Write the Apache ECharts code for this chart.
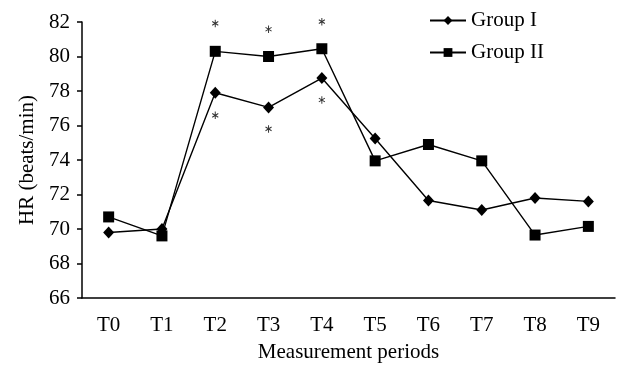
<!DOCTYPE html>
<html><head><meta charset="utf-8">
<script src="https://cdn.jsdelivr.net/npm/echarts@6/dist/echarts.min.js"></script>
<style>html,body{margin:0;padding:0;background:#fff}#c{width:626px;height:366px}</style>
</head><body><div id="c"></div>
<script>
const categories = ['T0','T1','T2','T3','T4','T5','T6','T7','T8','T9'];
const groupI  = [69.8, 70.0, 77.9, 77.05, 78.75, 75.25, 71.65, 71.1, 71.8, 71.6];
const groupII = [70.7, 69.6, 80.3, 80.0, 80.45, 73.95, 74.9, 73.95, 69.65, 70.15];
const starsAbove = [['T2', 81.92], ['T3', 81.58], ['T4', 82.02]];
const starsBelow = [['T2', 76.59], ['T3', 75.8], ['T4', 77.48]];
const yTicks = [66, 68, 70, 72, 74, 76, 78, 80, 82];

const F = 'Liberation Serif, Times New Roman, serif';
const FS = 21;
const ASTERISK = 'path://M-0.7,5 L0.7,5 L0.7,-5 L-0.7,-5 Z ' +
  'M3.98,3.11 L4.68,1.89 L-3.98,-3.11 L-4.68,-1.89 Z ' +
  'M-4.68,1.89 L-3.98,3.11 L4.68,-1.89 L3.98,-3.11 Z';
const chart = echarts.init(document.getElementById('c'));
chart.setOption({
  animation: false,
  grid: {left: 82, right: 11, top: 22, bottom: 68, containLabel: false, outerBoundsMode: 'none'},
  legend: {
    orient: 'vertical', left: 424, top: 5, itemGap: 11,
    itemWidth: 36, itemHeight: 11,
    data: ['Group I', 'Group II'],
    textStyle: {fontFamily: F, fontSize: FS, color: '#000'}
  },
  xAxis: {
    type: 'category', data: categories, boundaryGap: true,
    name: 'Measurement periods', nameLocation: 'middle', nameGap: 44,
    nameTextStyle: {fontFamily: F, fontSize: FS, color: '#000'},
    axisLine: {lineStyle: {color: '#000', width: 1.5}},
    axisTick: {length: 6, lineStyle: {color: '#000', width: 1.5}},
    axisLabel: {fontFamily: F, fontSize: FS, color: '#000', margin: 17}
  },
  yAxis: {
    type: 'value', min: yTicks[0], max: yTicks[yTicks.length - 1], interval: 2,
    name: 'HR (beats/min)', nameLocation: 'middle', nameGap: 44, nameRotate: 90,
    nameTextStyle: {fontFamily: F, fontSize: FS, color: '#000'},
    splitLine: {show: false},
    axisLine: {show: true, lineStyle: {color: '#000', width: 1.5}},
    axisTick: {show: true, length: 5, lineStyle: {color: '#000', width: 1.5}},
    axisLabel: {fontFamily: F, fontSize: FS, color: '#000', margin: 12}
  },
  series: [
    {name: 'Group I', type: 'line', data: groupI, symbol: 'diamond', symbolSize: [11, 12],
     itemStyle: {color: '#000'}, lineStyle: {color: '#000', width: 1.4}},
    {name: 'Group II', type: 'line', data: groupII, symbol: 'rect', symbolSize: 11,
     itemStyle: {color: '#000'}, lineStyle: {color: '#000', width: 1.4}},
    {name: 'sigA', type: 'scatter', data: starsAbove, symbol: ASTERISK, symbolSize: [7, 7.5],
     symbolKeepAspect: true, itemStyle: {color: '#000'}, silent: true, clip: false},
    {name: 'sigB', type: 'scatter', data: starsBelow, symbol: ASTERISK, symbolSize: [7, 7.5],
     symbolKeepAspect: true, itemStyle: {color: '#000'}, silent: true, clip: false}
  ]
});
</script></body></html>
